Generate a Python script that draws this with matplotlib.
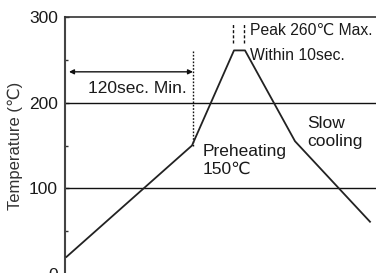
import matplotlib.pyplot as plt
from matplotlib.ticker import MultipleLocator

# reflow profile (time in sec, temperature in degC)
time = [1.5, 127, 169, 180, 230, 305]
temp = [20, 150, 261, 261, 155, 61]

yticks = [0, 100, 200, 300]
gridlines = [100, 200]

plt.rcParams['font.family'] = ['Liberation Sans', 'DejaVu Sans']
txt = '#1a1a1a'

fig = plt.figure(figsize=(3.76, 2.73), dpi=100)
ax = fig.add_axes([65 / 376, -1 / 273, 1 - 65 / 376, 257 / 273])

ax.plot(time, temp, color='#222222', lw=1.3, zorder=3)
for g in gridlines:
    ax.axhline(g, color='#111111', lw=1.0, zorder=2)

# 120 sec preheat marker
ax.plot([128, 128], [150, 261], color='#111111', lw=1.0, ls=(0, (1.2, 1.2)))
ax.annotate('', xy=(4, 236), xytext=(128, 236),
            arrowprops=dict(arrowstyle='<|-|>', color='#111111', lw=1.0,
                            mutation_scale=7, shrinkA=0, shrinkB=0))
ax.text(72, 216, '120sec. Min.', ha='center', va='center', fontsize=12.5, color=txt)

# peak time marks
for xp in [168, 179]:
    ax.plot([xp, xp], [270, 293], color='#111111', lw=1.0, ls=(0, (2.2, 1.5)))
ax.text(185, 284, 'Peak 260℃ Max.', ha='left', va='center', fontsize=11.3, color=txt)
ax.text(185, 255, 'Within 10sec.', ha='left', va='center', fontsize=11.3, color=txt)

ax.text(138, 133, 'Preheating\n150℃', ha='left', va='center', fontsize=12.5,
        color=txt, linespacing=1.25)
ax.text(242, 165, 'Slow\ncooling', ha='left', va='center', fontsize=12.5,
        color=txt, linespacing=1.25)

ax.set_xlim(0, 311)
ax.set_ylim(0, 300)
ax.set_yticks(yticks)
ax.yaxis.set_minor_locator(MultipleLocator(50))
ax.set_xticks([])
ax.tick_params(axis='y', which='major', direction='in', length=3, width=1,
               pad=5, labelsize=12.5, labelcolor=txt, color='#333333')
ax.tick_params(axis='y', which='minor', direction='in', length=2, width=1,
               color='#333333')
ax.set_ylabel('Temperature (℃)', fontsize=12, color='#333333', labelpad=4)

for s in ['right', 'bottom']:
    ax.spines[s].set_visible(False)
ax.spines['left'].set_color('#444444')
ax.spines['left'].set_linewidth(1.5)
ax.spines['top'].set_color('#333333')
ax.spines['top'].set_linewidth(1.2)

fig.savefig('out.png', dpi=100)
